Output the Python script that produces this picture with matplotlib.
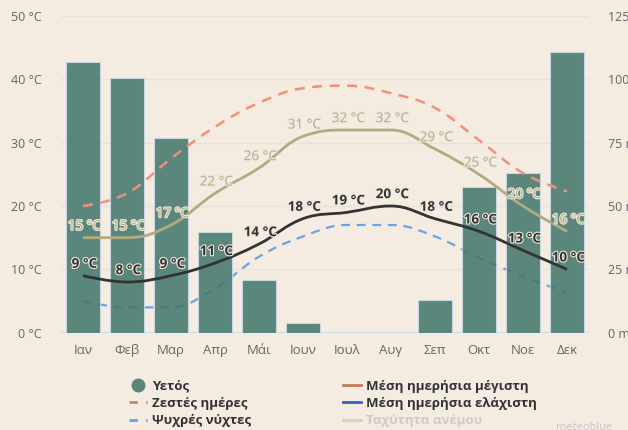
import matplotlib
matplotlib.use("Agg")
import matplotlib.pyplot as plt
import matplotlib.patheffects as pe
from matplotlib.path import Path
from matplotlib.patches import PathPatch
from matplotlib.lines import Line2D

plt.rcParams['font.family'] = ['Open Sans', 'DejaVu Sans']

# -------------------------
# data
# -------------------------
months = ["Ιαν", "Φεβ", "Μαρ", "Απρ", "Μάι", "Ιουν",
          "Ιουλ", "Αυγ", "Σεπ", "Οκτ", "Νοε", "Δεκ"]
rain_mm = [106.7, 100.6, 77.0, 39.6, 20.8, 3.7, 0, 0, 12.9, 57.6, 62.9, 110.7]
temp_max = [15, 15, 17, 22, 26, 31, 32, 32, 29, 25, 20, 16]
temp_min = [9, 8, 9, 11, 14, 18, 19, 20, 18, 16, 13, 10]
hot_days = [20, 22, 27.5, 32.5, 36.3, 38.6, 39, 37.8, 35.5, 30.4, 25.2, 22.3]
cold_nights = [5, 4, 4, 7, 12, 15.2, 17, 17, 15.2, 11.8, 8.9, 6.3]

temp_ticks = [0, 10, 20, 30, 40, 50]
rain_ticks = [0, 25, 50, 75, 100, 125]

BG = '#f4ebe1'
BAR = '#40756a'
KHAKI = '#b3aa82'
DARK = '#333333'
SALMON = '#f58f7c'
LBLUE = '#68a4e8'


def spline_path(xs, ys, sm=1.5):
    """smooth path (highcharts style spline control points)"""
    n = len(xs)
    d = sm + 1
    left = [(xs[i], ys[i]) for i in range(n)]
    right = [(xs[i], ys[i]) for i in range(n)]
    for i in range(1, n - 1):
        lx = (sm * xs[i] + xs[i - 1]) / d
        ly = (sm * ys[i] + ys[i - 1]) / d
        rx = (sm * xs[i] + xs[i + 1]) / d
        ry = (sm * ys[i] + ys[i + 1]) / d
        corr = ((ry - ly) * (rx - xs[i])) / (rx - lx) + ys[i] - ry
        ly += corr
        ry += corr
        if ly > max(ys[i - 1], ys[i]):
            ly = max(ys[i - 1], ys[i]); ry = 2 * ys[i] - ly
        elif ly < min(ys[i - 1], ys[i]):
            ly = min(ys[i - 1], ys[i]); ry = 2 * ys[i] - ly
        if ry > max(ys[i + 1], ys[i]):
            ry = max(ys[i + 1], ys[i]); ly = 2 * ys[i] - ry
        elif ry < min(ys[i + 1], ys[i]):
            ry = min(ys[i + 1], ys[i]); ly = 2 * ys[i] - ry
        left[i] = (lx, ly)
        right[i] = (rx, ry)
    verts = [(xs[0], ys[0])]
    codes = [Path.MOVETO]
    for i in range(1, n):
        verts += [right[i - 1], left[i], (xs[i], ys[i])]
        codes += [Path.CURVE4] * 3
    return Path(verts, codes)


def add_curve(ax, ys, color, lw, ls='-', z=3):
    xs = list(range(len(ys)))
    patch = PathPatch(spline_path(xs, ys), fill=False, edgecolor=color,
                      lw=lw, linestyle=ls, zorder=z, capstyle='butt')
    ax.add_patch(patch)


fig = plt.figure(figsize=(6.28, 4.30), dpi=100, facecolor=BG)
ax = fig.add_axes([0.0971, 0.2263, 0.8408, 0.7365])
ax.set_facecolor(BG)
ax2 = ax.twinx()
ax3 = ax.twinx()

x = list(range(len(months)))

# back layer: grid + cold nights
ax.set_xlim(-0.5, 11.5)
ax.set_ylim(0, 50)
ax.set_yticks(temp_ticks)
ax.set_yticklabels([f"{t} °C" for t in temp_ticks])
ax.grid(axis='y', color='#e8e2dc', lw=1)
ax.set_axisbelow(True)
add_curve(ax, cold_nights, LBLUE, 1.6, ls=(0, (4, 3)), z=2)

# middle layer: rain bars
ax2.bar(x, rain_mm, width=0.78, color=BAR, alpha=0.85,
        edgecolor='#cfdcea', lw=0.8, zorder=2)
ax2.set_ylim(0, 125)
ax2.set_yticks(rain_ticks)
ax2.set_yticklabels([f"{t} mm" for t in rain_ticks])
ax2.axhline(0, color='#ccd6eb', lw=1.2, zorder=1)

# front layer: temperature curves + labels
ax3.set_ylim(0, 50)
ax3.set_xlim(-0.5, 11.5)
ax3.axis('off')
add_curve(ax3, hot_days, SALMON, 1.8, ls=(0, (4, 3)), z=3)
add_curve(ax3, temp_max, KHAKI, 2.0, z=4)
add_curve(ax3, temp_min, DARK, 2.0, z=5)

halo = [pe.withStroke(linewidth=1.6, foreground='#efe8dc')]
for i, v in enumerate(temp_max):
    ax3.annotate(f"{v} °C", (i, v), xytext=(1, 3.5), textcoords='offset points',
                 ha='center', va='bottom', fontsize=9.7, color=KHAKI,
                 fontweight='medium', path_effects=halo, zorder=6)
for i, v in enumerate(temp_min):
    ax3.annotate(f"{v} °C", (i, v), xytext=(1, 3.5), textcoords='offset points',
                 ha='center', va='bottom', fontsize=9.7, color=DARK,
                 fontweight='bold', path_effects=halo, zorder=7)

ax.set_xticks(x)
ax.set_xticklabels(months)
for a in (ax, ax2, ax3):
    for s in a.spines.values():
        s.set_visible(False)
ax.tick_params(axis='x', length=0, pad=8, labelsize=9.5, labelcolor='#666666')
ax.tick_params(axis='y', length=0, pad=14, labelsize=9, labelcolor='#666666')
ax2.tick_params(axis='y', length=0, pad=14, labelsize=9, labelcolor='#666666')

# legend, two columns
left_h = [
    Line2D([], [], ls='none', marker='o', markersize=9, color='#5b8577'),
    Line2D([], [], color='#c8866c', lw=2, dashes=(3, 3)),
    Line2D([], [], color=LBLUE, lw=2, dashes=(3, 3)),
]
left_l = ["Υετός", "Ζεστές ημέρες", "Ψυχρές νύχτες"]
right_h = [
    Line2D([], [], color='#c47a5a', lw=2),
    Line2D([], [], color='#2f62c9', lw=2),
    Line2D([], [], color='#d0d0d0', lw=2),
]
right_l = ["Μέση ημερήσια μέγιστη", "Μέση ημερήσια ελάχιστη", "Ταχύτητα ανέμου"]

common = dict(loc='upper left', frameon=False, prop={'size': 9.5, 'weight': 'bold'},
              handlelength=1.35, handletextpad=0.4, labelspacing=0.32,
              borderaxespad=0, borderpad=0)
leg1 = fig.legend(left_h, left_l, bbox_to_anchor=(0.205, 0.117), **common)
leg2 = fig.legend(right_h, right_l, bbox_to_anchor=(0.546, 0.117), **common)
for lg in (leg1, leg2):
    for t in lg.get_texts():
        t.set_color('#333333')
leg2.get_texts()[-1].set_color('#cccccc')

fig.text(0.885, 0.005, "meteoblue", fontsize=8, color='#c8c8c8', va='center')

fig.savefig("out.png", dpi=100, facecolor=BG)
